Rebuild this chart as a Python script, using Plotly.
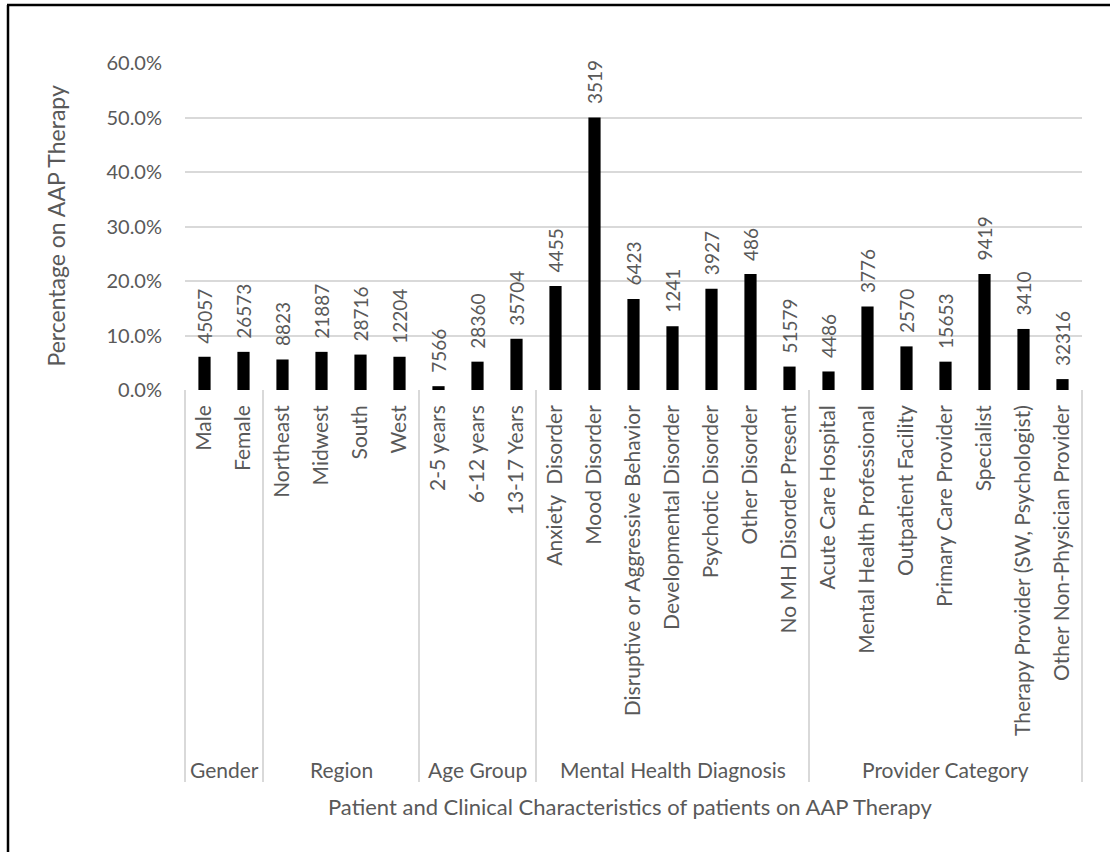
import plotly.graph_objects as go

# Category structure (outer group -> inner categories)
groups = ["Gender", "Region", "Age Group", "Mental Health Diagnosis", "Provider Category"]
group_sizes = [2, 4, 3, 7, 7]
categories = [
    "Male", "Female",
    "Northeast", "Midwest", "South", "West",
    "2-5 years", "6-12 years", "13-17 Years",
    "Anxiety  Disorder", "Mood Disorder", "Disruptive or Aggressive Behavior",
    "Developmental Disorder", "Psychotic Disorder", "Other Disorder", "No MH Disorder Present",
    "Acute Care Hospital", "Mental Health Professional", "Outpatient Facility",
    "Primary Care Provider", "Specialist", "Therapy Provider (SW, Psychologist)",
    "Other Non-Physician Provider",
]
# Share of patients on AAP therapy
pct_on_aap = [
    0.061, 0.070,
    0.056, 0.070, 0.065, 0.061,
    0.007, 0.052, 0.094,
    0.191, 0.500, 0.167, 0.117, 0.186, 0.213, 0.043,
    0.034, 0.153, 0.080, 0.052, 0.213, 0.112, 0.020,
]
# Patient counts shown above each bar
counts = [
    45057, 26573,
    8823, 21887, 28716, 12204,
    7566, 28360, 35704,
    4455, 3519, 6423, 1241, 3927, 486, 51579,
    4486, 3776, 2570, 15653, 9419, 3410, 32316,
]
y_ticks = [0, 0.1, 0.2, 0.3, 0.4, 0.5, 0.6]

FONT = "Lato"
GREY = "#595959"
LINE = "#d9d9d9"

W, H = 1110, 852
L, R, T, B = 185, 28, 63, 462
plot_w, plot_h = W - L - R, H - T - B


def px_x(px):
    return (px - L) / plot_w


def px_y(py):
    return (H - B - py) / plot_h


fig = go.Figure(
    go.Bar(
        x=categories,
        y=pct_on_aap,
        marker=dict(color="black", line=dict(width=0)),
        hoverinfo="skip",
    )
)

# Count labels above bars
for cat, val, n in zip(categories, pct_on_aap, counts):
    fig.add_annotation(
        x=cat, y=val, xref="x", yref="y",
        text=str(n), textangle=-90, showarrow=False,
        xanchor="center", yanchor="bottom", yshift=11,
        font=dict(family=FONT, size=19, color=GREY),
    )

# Group dividers and group labels under the category labels
shapes = []
start = 0
div_bottom = px_y(782)
for name, size in zip(groups, group_sizes):
    center = start + (size - 1) / 2
    fig.add_annotation(
        x=center, y=px_y(769), xref="x", yref="paper",
        text=name, showarrow=False, yanchor="middle",
        font=dict(family=FONT, size=21, color=GREY),
    )
    if start > 0:
        shapes.append(dict(type="line", xref="x", yref="paper",
                           x0=start - 0.5, x1=start - 0.5, y0=0, y1=div_bottom,
                           line=dict(color=LINE, width=2)))
    start += size
for edge in (0, 1):
    shapes.append(dict(type="line", xref="paper", yref="paper",
                       x0=edge, x1=edge, y0=0, y1=div_bottom,
                       line=dict(color=LINE, width=2)))

# Outer frame (left and top edges)
shapes.append(dict(type="line", xref="paper", yref="paper",
                   x0=px_x(8), x1=px_x(8), y0=px_y(5), y1=px_y(H + 5),
                   line=dict(color="black", width=2.5)))
shapes.append(dict(type="line", xref="paper", yref="paper",
                   x0=px_x(7), x1=px_x(W + 5), y0=px_y(5), y1=px_y(5),
                   line=dict(color="black", width=2.5)))

# Axis titles
fig.add_annotation(
    x=px_x(55), y=0.5, xref="paper", yref="paper",
    text="Percentage on AAP Therapy", textangle=-90, showarrow=False,
    xanchor="center", yanchor="middle",
    font=dict(family=FONT, size=23, color=GREY),
)
fig.add_annotation(
    x=px_x(630), y=px_y(807), xref="paper", yref="paper",
    text="Patient and Clinical Characteristics of patients on AAP Therapy",
    showarrow=False, xanchor="center", yanchor="middle",
    font=dict(family=FONT, size=22, color=GREY),
)

fig.update_layout(
    width=W, height=H,
    margin=dict(l=L, r=R, t=T, b=B, autoexpand=False),
    paper_bgcolor="white", plot_bgcolor="white",
    bargap=0.687, showlegend=False,
    shapes=shapes,
    font=dict(family=FONT, color=GREY),
)
fig.update_xaxes(
    type="category", range=[-0.5, len(categories) - 0.5],
    tickangle=-90, ticks="", ticklabelstandoff=10,
    tickfont=dict(family=FONT, size=21, color=GREY),
    showgrid=False, showline=False, zeroline=False, automargin=False,
)
fig.update_yaxes(
    range=[0, 0.6], tickvals=y_ticks, tickformat=".1%",
    tickfont=dict(family=FONT, size=20, color=GREY),
    showgrid=True, gridcolor=LINE, gridwidth=2,
    zeroline=False, showline=False, ticks="", ticklabelstandoff=22,
    automargin=False,
)

fig.write_html("out.html")
